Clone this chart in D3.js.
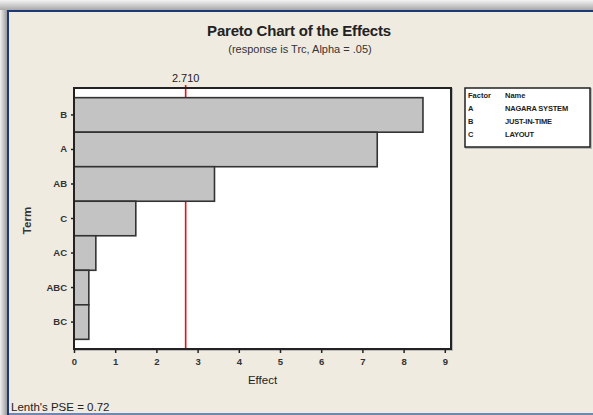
<!DOCTYPE html>
<html>
<head>
<meta charset="utf-8">
<script src="https://cdn.jsdelivr.net/npm/d3@7"></script>
<style>
  body { margin: 0; background: #fff; }
  svg { display: block; font-family: "Liberation Sans", Arial, sans-serif; }
</style>
</head>
<body>
<svg id="chart" width="593" height="415"></svg>
<script>
// effects, sorted as in the pareto chart
var terms = ['B', 'A', 'AB', 'C', 'AC', 'ABC', 'BC'];
var effects = [8.47, 7.36, 3.41, 1.50, 0.53, 0.36, 0.36];
var xTicks = [0, 1, 2, 3, 4, 5, 6, 7, 8, 9];
var critical = 2.710;
var factorCodes = ['A', 'B', 'C'];
var factorNames = ['NAGARA SYSTEM', 'JUST-IN-TIME', 'LAYOUT'];

var svg = d3.select('#chart');

// window frame
var grad = svg.append('defs').append('linearGradient')
    .attr('id', 'shade').attr('x1', 0).attr('y1', 0).attr('x2', 0).attr('y2', 1);
grad.append('stop').attr('offset', '0%').attr('stop-color', '#f4f4f4');
grad.append('stop').attr('offset', '100%').attr('stop-color', '#a8a8a8');
var lgrad = svg.select('defs').append('linearGradient')
    .attr('id', 'lshade').attr('x1', 0).attr('y1', 0).attr('x2', 1).attr('y2', 0);
lgrad.append('stop').attr('offset', '0%').attr('stop-color', '#f0f0f0');
lgrad.append('stop').attr('offset', '100%').attr('stop-color', '#9a9a9a');

svg.append('rect').attr('width', 593).attr('height', 415).attr('fill', '#f2f2f2');
svg.append('rect').attr('x', 0).attr('y', 0).attr('width', 593).attr('height', 10).attr('fill', 'url(#shade)');
svg.append('rect').attr('x', 0).attr('y', 10).attr('width', 7).attr('height', 405).attr('fill', 'url(#lshade)');
svg.append('rect').attr('x', 7).attr('y', 10).attr('width', 586).attr('height', 405).attr('fill', '#1c3a78');
svg.append('rect').attr('x', 9).attr('y', 12).attr('width', 584).attr('height', 401).attr('fill', '#efebe1');
svg.append('rect').attr('x', 9).attr('y', 413).attr('width', 584).attr('height', 2).attr('fill', '#6f87b5');

// titles
svg.append('text').attr('x', 299).attr('y', 36).attr('text-anchor', 'middle')
    .attr('font-size', 15).attr('font-weight', 'bold').attr('fill', '#222')
    .attr('letter-spacing', -0.2)
    .text('Pareto Chart of the Effects');
svg.append('text').attr('x', 300).attr('y', 53).attr('text-anchor', 'middle')
    .attr('font-size', 11).attr('fill', '#333')
    .text('(response is Trc, Alpha = .05)');

// plot area
var plotLeft = 74, plotRight = 451, plotTop = 88, plotBottom = 349;

var x = d3.scaleLinear().domain([0, 9]).range([plotLeft, plotLeft + 9 * 41.2]);
var y = d3.scaleBand().domain(terms).range([plotTop, plotBottom]).paddingInner(0).paddingOuter(0.28);

svg.append('rect').attr('x', plotLeft + 1).attr('y', plotTop + 1)
    .attr('width', plotRight - plotLeft).attr('height', plotBottom - plotTop)
    .attr('fill', 'none').attr('stroke', '#bbb').attr('stroke-width', 2);
svg.append('rect').attr('x', plotLeft).attr('y', plotTop)
    .attr('width', plotRight - plotLeft).attr('height', plotBottom - plotTop)
    .attr('fill', '#fff');

svg.append('line')
    .attr('x1', x(critical)).attr('x2', x(critical))
    .attr('y1', plotTop - 3).attr('y2', plotBottom)
    .attr('stroke', '#e81010').attr('stroke-width', 1.6);

svg.selectAll('rect.bar')
    .data(terms)
    .enter()
    .append('rect')
    .attr('class', 'bar')
    .attr('x', plotLeft)
    .attr('y', function(d) { return y(d); })
    .attr('width', function(d, i) { return x(effects[i]) - plotLeft; })
    .attr('height', y.bandwidth())
    .attr('fill', '#c3c3c3')
    .attr('stroke', '#333')
    .attr('stroke-width', 1.6);

svg.append('rect').attr('x', plotLeft).attr('y', plotTop)
    .attr('width', plotRight - plotLeft).attr('height', plotBottom - plotTop)
    .attr('fill', 'none').attr('stroke', '#222').attr('stroke-width', 2);

// x axis
var xAxis = svg.append('g')
    .attr('transform', 'translate(0,' + plotBottom + ')')
    .call(d3.axisBottom(x).tickValues(xTicks).tickSize(4).tickPadding(5).tickFormat(d3.format('d')));
xAxis.select('.domain').remove();
xAxis.selectAll('line').attr('stroke', '#222').attr('stroke-width', 1.5);
xAxis.selectAll('text').attr('font-size', 9.5).attr('font-weight', 'bold')
    .attr('fill', '#333').attr('font-family', '"Liberation Sans", Arial, sans-serif');

// y axis
var yAxis = svg.append('g')
    .attr('transform', 'translate(' + plotLeft + ',0)')
    .call(d3.axisLeft(y).tickSize(3).tickPadding(4));
yAxis.select('.domain').remove();
yAxis.selectAll('line').attr('stroke', '#222').attr('stroke-width', 1.5);
yAxis.selectAll('text').attr('font-size', 9.5).attr('font-weight', 'bold')
    .attr('fill', '#333').attr('font-family', '"Liberation Sans", Arial, sans-serif');

svg.append('text').attr('x', x(critical)).attr('y', 82).attr('text-anchor', 'middle')
    .attr('font-size', 11).attr('fill', '#222').text(critical.toFixed(3));

svg.append('text').attr('x', (plotLeft + plotRight) / 2).attr('y', 384).attr('text-anchor', 'middle')
    .attr('font-size', 11.5).attr('fill', '#222').text('Effect');

svg.append('text')
    .attr('transform', 'translate(31,' + ((plotTop + plotBottom) / 2 + 2) + ') rotate(-90)')
    .attr('text-anchor', 'middle').attr('font-size', 11.5).attr('font-weight', 'bold')
    .attr('fill', '#333').text('Term');

svg.append('text').attr('x', 11).attr('y', 411)
    .attr('font-size', 11.5).attr('fill', '#222').text("Lenth's PSE = 0.72");

// factor legend
var lg = svg.append('g').attr('transform', 'translate(465,88)');
lg.append('rect').attr('x', 1).attr('y', 1).attr('width', 125).attr('height', 59)
    .attr('fill', 'none').attr('stroke', '#bbb').attr('stroke-width', 2);
lg.append('rect').attr('width', 125).attr('height', 59)
    .attr('fill', '#fff').attr('stroke', '#222').attr('stroke-width', 1.5);
lg.append('text').attr('x', 3).attr('y', 10).attr('font-size', 7.5).attr('font-weight', 'bold')
    .attr('fill', '#222').text('Factor');
lg.append('text').attr('x', 40).attr('y', 10).attr('font-size', 7.5).attr('font-weight', 'bold')
    .attr('fill', '#222').text('Name');
factorCodes.forEach(function(code, i) {
    lg.append('text').attr('x', 3).attr('y', 23 + i * 13).attr('font-size', 7.5)
        .attr('font-weight', 'bold').attr('fill', '#222').text(code);
    lg.append('text').attr('x', 40).attr('y', 23 + i * 13).attr('font-size', 7.5)
        .attr('font-weight', 'bold').attr('fill', '#222').attr('letter-spacing', -0.2)
        .text(factorNames[i]);
});
</script>
</body>
</html>
